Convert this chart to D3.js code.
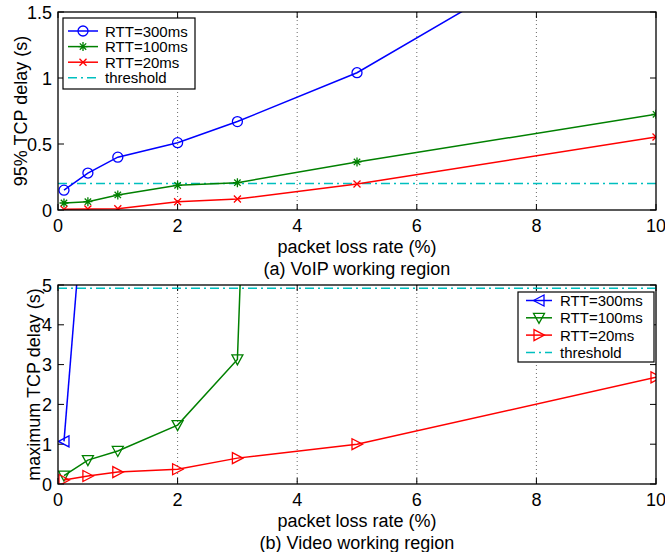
<!DOCTYPE html>
<html>
<head>
<meta charset="utf-8">
<script src="https://cdn.jsdelivr.net/npm/d3@7"></script>
<style>
  body { margin: 0; background: #fff; }
  svg { font-family: "Liberation Sans", Arial, sans-serif; }
</style>
</head>
<body>
<svg id="chart" width="665" height="552"></svg>
<script>
// packet loss rate (%) sampled in both experiments
const lossRate = [0.1, 0.5, 1, 2, 3, 5, 10];

// (a) VoIP: 95% TCP delay (s)
const voip300 = [0.15, 0.28, 0.40, 0.51, 0.67, 1.04, 2.36];
const voip100 = [0.053, 0.063, 0.114, 0.187, 0.207, 0.364, 0.725];
const voip20 = [0.005, 0.008, 0.01, 0.063, 0.083, 0.197, 0.553];
const voipThreshold = 0.2;

// (b) Video: maximum TCP delay (s); null = off the chart, not readable
const video300 = [1.07, 8.5, null, null, null, null, null];
const video100 = [0.21, 0.60, 0.83, 1.48, 3.13, 86, null];
const video20 = [0.1, 0.2, 0.3, 0.37, 0.65, 1.0, 2.68];
const videoThreshold = 4.92;

const xTicks = [0, 2, 4, 6, 8, 10];
const voipTicks = [0, 0.5, 1, 1.5];
const videoTicks = [0, 1, 2, 3, 4, 5];

const svg = d3.select("#chart");
const FONT = 18;

// marker path generators (centred at 0,0)
const markers = {
  circle: (g) => g.append("circle").attr("r", 5).attr("fill", "none"),
  star: (g) => g.append("path").attr("d", "M-4.5,0H4.5M0,-4.5V4.5M-3.2,-3.2L3.2,3.2M-3.2,3.2L3.2,-3.2"),
  cross: (g) => g.append("path").attr("d", "M-3.5,-3.5L3.5,3.5M-3.5,3.5L3.5,-3.5"),
  triLeft: (g) => g.append("path").attr("d", "M-5.5,0L5,-5.5L5,5.5Z").attr("fill", "none"),
  triDown: (g) => g.append("path").attr("d", "M-5.5,-4.5L5.5,-4.5L0,5.5Z").attr("fill", "none"),
  triRight: (g) => g.append("path").attr("d", "M5.5,0L-5,-5.5L-5,5.5Z").attr("fill", "none")
};

function drawPanel(opt) {
  const x = d3.scaleLinear().domain([0, 10]).range([58, 656]);
  const y = d3.scaleLinear().domain(opt.yDomain).range([opt.bottom, opt.top]);
  const g = svg.append("g");
  const clipId = "clip" + opt.id;

  g.append("clipPath").attr("id", clipId)
    .append("rect")
    .attr("x", x.range()[0]).attr("y", opt.top)
    .attr("width", x.range()[1] - x.range()[0]).attr("height", opt.bottom - opt.top);

  // dotted vertical grid
  g.selectAll(".grid").data(xTicks.slice(1, -1)).join("line")
    .attr("x1", x).attr("x2", x)
    .attr("y1", opt.top).attr("y2", opt.bottom)
    .attr("stroke", "#444").attr("stroke-width", 0.8)
    .attr("stroke-dasharray", "1,3");

  // inward ticks on all four sides
  const tl = 6;
  g.selectAll(".xtb").data(xTicks).join("line")
    .attr("x1", x).attr("x2", x)
    .attr("y1", opt.bottom).attr("y2", opt.bottom - tl)
    .attr("stroke", "#000");
  g.selectAll(".xtt").data(xTicks).join("line")
    .attr("x1", x).attr("x2", x)
    .attr("y1", opt.top).attr("y2", opt.top + tl)
    .attr("stroke", "#000");
  g.selectAll(".ytl").data(opt.yTicks).join("line")
    .attr("x1", 58).attr("x2", 58 + tl)
    .attr("y1", y).attr("y2", y)
    .attr("stroke", "#000");
  g.selectAll(".ytr").data(opt.yTicks).join("line")
    .attr("x1", 656).attr("x2", 656 - tl)
    .attr("y1", y).attr("y2", y)
    .attr("stroke", "#000");

  // tick labels
  g.selectAll(".xl").data(xTicks).join("text")
    .attr("x", x).attr("y", opt.bottom + 22)
    .attr("text-anchor", "middle").attr("font-size", FONT)
    .text((d) => d);
  g.selectAll(".yl").data(opt.yTicks).join("text")
    .attr("x", 52).attr("y", (d) => y(d) + 6.5)
    .attr("text-anchor", "end").attr("font-size", FONT)
    .text((d) => d);

  // threshold
  const plot = g.append("g").attr("clip-path", `url(#${clipId})`);
  plot.append("line")
    .attr("x1", x(0)).attr("x2", x(10))
    .attr("y1", y(opt.threshold)).attr("y2", y(opt.threshold))
    .attr("stroke", "#00bfbf").attr("stroke-width", 1.5)
    .attr("stroke-dasharray", "9,4,2,4");

  const line = d3.line()
    .defined((d) => d[1] != null)
    .x((d) => x(d[0])).y((d) => y(d[1]));

  opt.series.forEach((s) => {
    const pts = lossRate.map((r, i) => [r, s.values[i]]);
    plot.append("path")
      .attr("d", line(pts))
      .attr("fill", "none").attr("stroke", s.color).attr("stroke-width", 1.5);
    pts.filter((p) => p[1] != null && p[1] <= opt.yDomain[1]).forEach((p) => {
      const m = plot.append("g")
        .attr("transform", `translate(${x(p[0])},${y(p[1])})`)
        .attr("stroke", s.color).attr("stroke-width", 1.3);
      markers[s.marker](m);
    });
  });

  // axes box
  g.append("rect")
    .attr("x", 58).attr("y", opt.top)
    .attr("width", 598).attr("height", opt.bottom - opt.top)
    .attr("fill", "none").attr("stroke", "#000").attr("stroke-width", 1.3);

  // labels
  g.append("text")
    .attr("x", 357).attr("y", opt.bottom + 43)
    .attr("text-anchor", "middle").attr("font-size", FONT)
    .text("packet loss rate (%)");
  g.append("text")
    .attr("x", 357).attr("y", opt.bottom + 65)
    .attr("text-anchor", "middle").attr("font-size", FONT)
    .text(opt.caption);
  g.append("text")
    .attr("transform", `translate(${opt.ylabelX},${(opt.top + opt.bottom) / 2}) rotate(-90)`)
    .attr("text-anchor", "middle").attr("font-size", FONT)
    .text(opt.ylabel);

  // legend
  const L = opt.legend;
  g.append("rect")
    .attr("x", L.x).attr("y", L.y).attr("width", L.w).attr("height", L.h)
    .attr("fill", "#fff").attr("stroke", "#000").attr("stroke-width", 1.2);
  const items = opt.series.concat([{ label: "threshold", color: "#00bfbf", dash: true }]);
  items.forEach((s, i) => {
    const cy = L.row0 + i * L.step;
    const lg = g.append("g");
    lg.append("line")
      .attr("x1", L.lx0).attr("x2", L.lx1).attr("y1", cy).attr("y2", cy)
      .attr("stroke", s.color).attr("stroke-width", 1.5)
      .attr("stroke-dasharray", s.dash ? "9,4,2,4" : null);
    if (s.marker) {
      const m = lg.append("g")
        .attr("transform", `translate(${(L.lx0 + L.lx1) / 2},${cy})`)
        .attr("stroke", s.color).attr("stroke-width", 1.3);
      markers[s.marker](m);
    }
    lg.append("text")
      .attr("x", L.tx).attr("y", cy + 5.5)
      .attr("font-size", 15)
      .text(s.label);
  });
}

drawPanel({
  id: "a", top: 12, bottom: 210, yDomain: [0, 1.5], yTicks: voipTicks,
  threshold: voipThreshold, ylabel: "95% TCP delay (s)", ylabelX: 27,
  caption: "(a) VoIP working region",
  series: [
    { label: "RTT=300ms", color: "#0000ff", marker: "circle", values: voip300 },
    { label: "RTT=100ms", color: "#008000", marker: "star", values: voip100 },
    { label: "RTT=20ms", color: "#ff0000", marker: "cross", values: voip20 }
  ],
  legend: { x: 63, y: 18, w: 132, h: 71, row0: 31, step: 15.6, lx0: 68, lx1: 98, tx: 105 }
});

drawPanel({
  id: "b", top: 285, bottom: 484, yDomain: [0, 5], yTicks: videoTicks,
  threshold: videoThreshold, ylabel: "maximum TCP delay (s)", ylabelX: 40,
  caption: "(b) Video working region",
  series: [
    { label: "RTT=300ms", color: "#0000ff", marker: "triLeft", values: video300 },
    { label: "RTT=100ms", color: "#008000", marker: "triDown", values: video100 },
    { label: "RTT=20ms", color: "#ff0000", marker: "triRight", values: video20 }
  ],
  legend: { x: 518, y: 292, w: 136, h: 70, row0: 300.5, step: 17.3, lx0: 526, lx1: 552, tx: 560 }
});
</script>
</body>
</html>
